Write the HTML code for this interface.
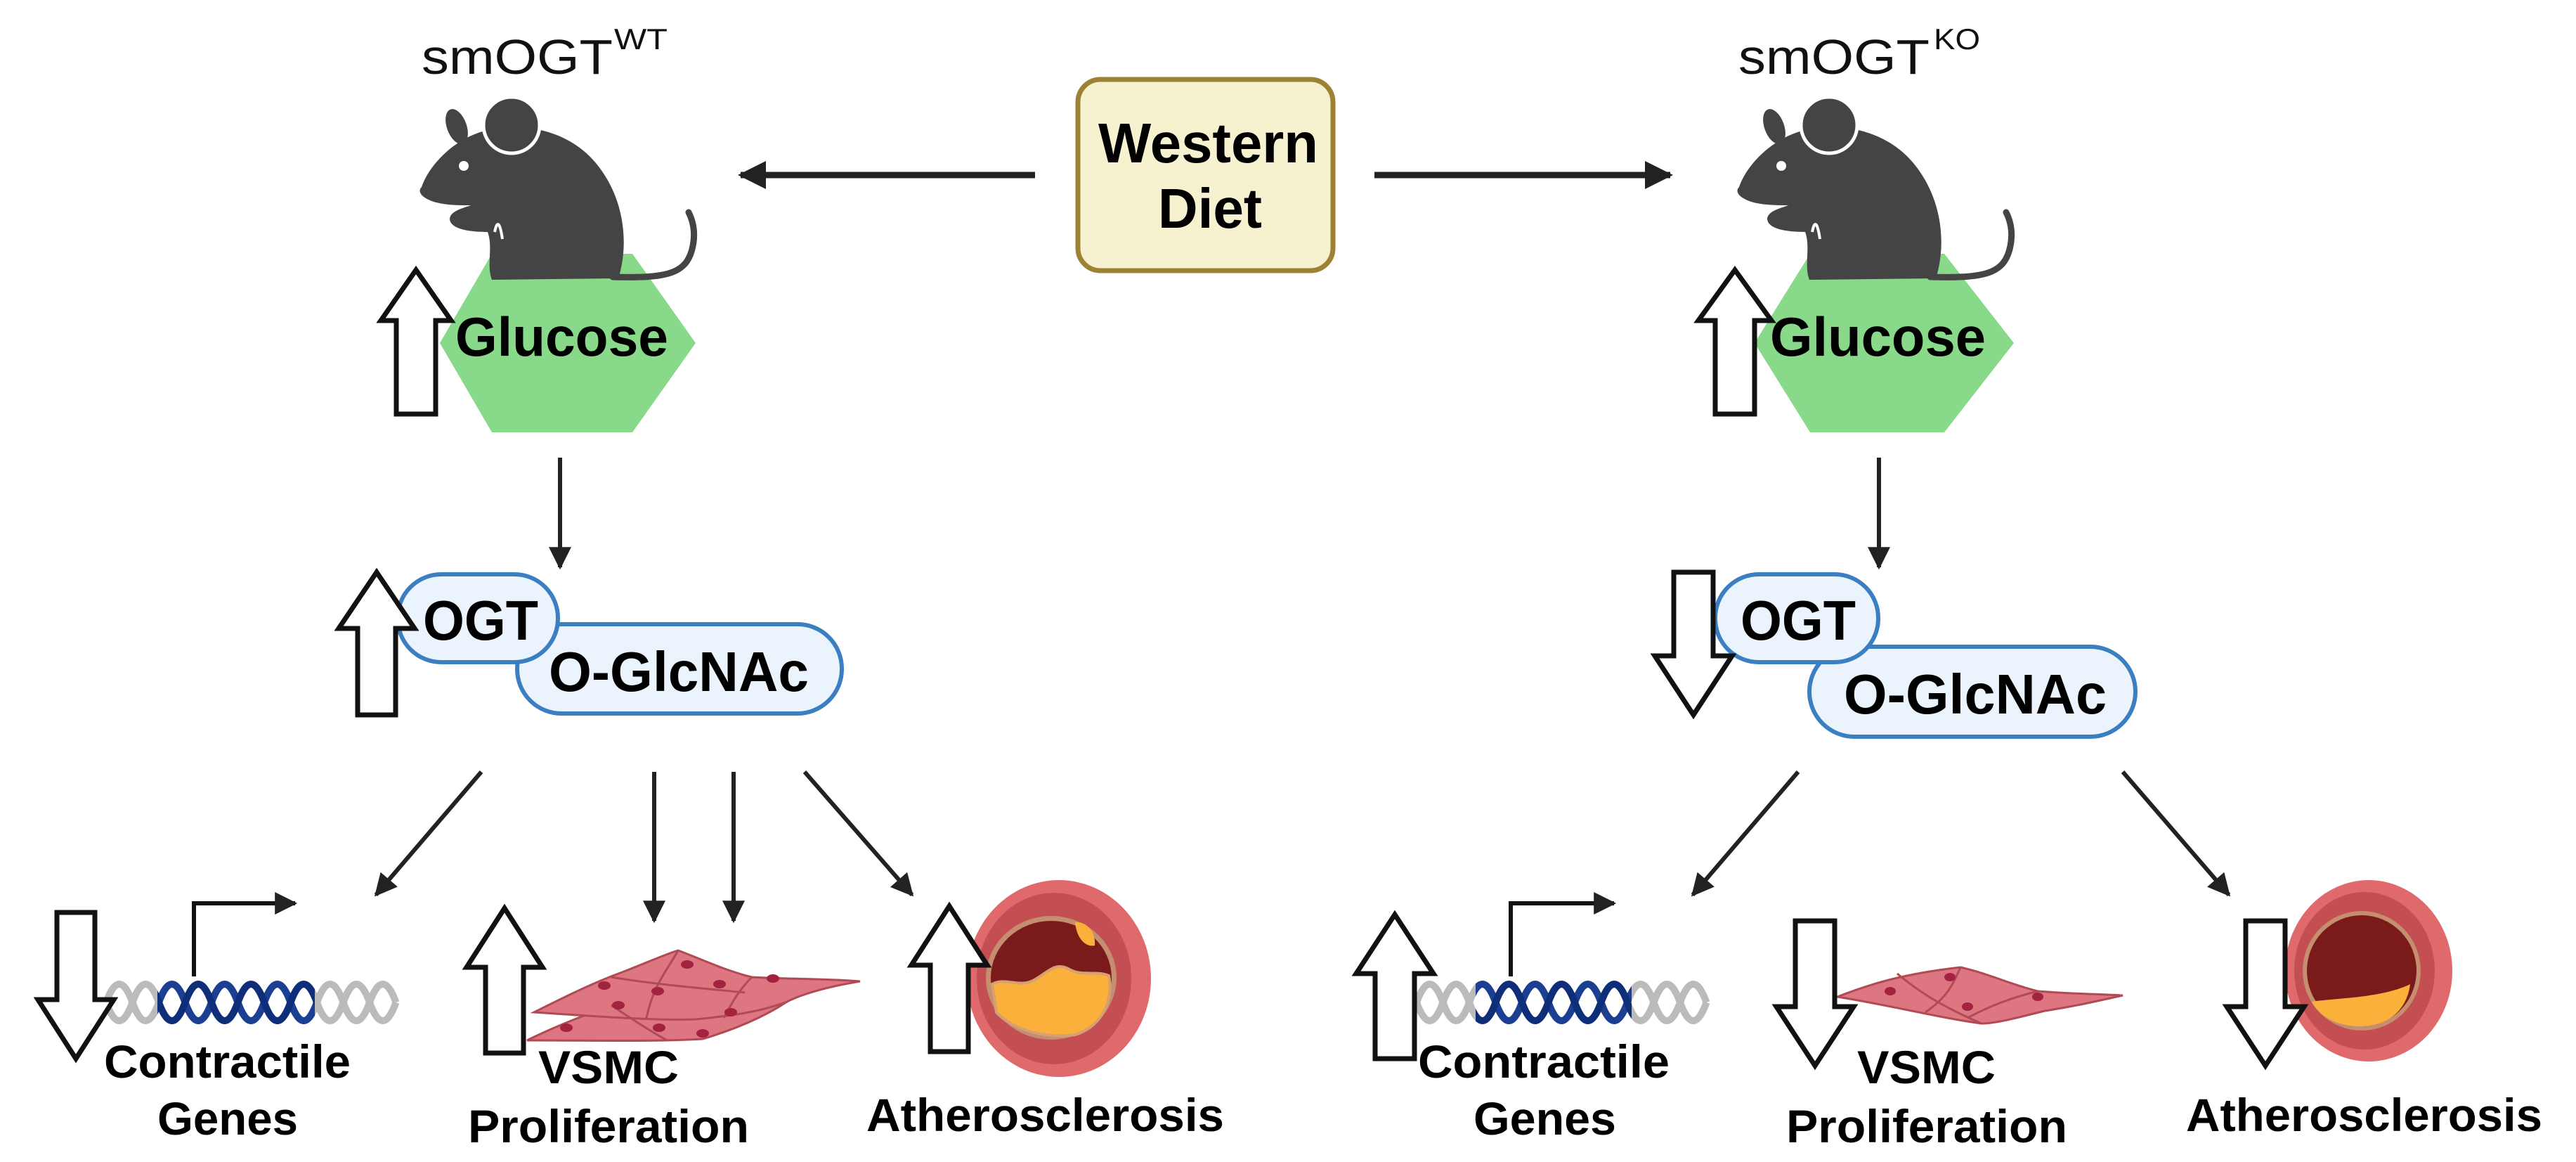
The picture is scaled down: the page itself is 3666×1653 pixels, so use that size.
<!DOCTYPE html>
<html><head><meta charset="utf-8">
<style>
html,body{margin:0;padding:0;background:#fff;}
svg{display:block;}
text{font-family:"Liberation Sans",Arial,sans-serif;}
.b{font-weight:bold;fill:#000;}
</style></head>
<body>
<svg width="3666" height="1653" viewBox="0 0 3666 1653" xmlns="http://www.w3.org/2000/svg">
<defs>
<marker id="ah" viewBox="0 0 10 10" refX="9" refY="5" markerWidth="42" markerHeight="32" markerUnits="userSpaceOnUse" orient="auto">
<path d="M0,0 L10,5 L0,10 z" fill="#222"/></marker>
<marker id="ahb" viewBox="0 0 10 10" refX="9" refY="5" markerWidth="40" markerHeight="40" markerUnits="userSpaceOnUse" orient="auto">
<path d="M0,0 L10,5 L0,10 z" fill="#222"/></marker>
<g id="mouse">
<path d="M600,266 C610,236 645,198 690,186 C745,172 810,186 848,232 C888,280 896,345 880,396 L700,398 C692,378 702,352 694,330 C676,330 642,328 640,312 C640,300 660,296 670,292 C650,292 622,292 606,282 C596,276 596,270 600,266 Z" fill="#444"/>
<ellipse cx="650" cy="180" rx="14" ry="26" transform="rotate(-20 650 180)" fill="#444"/>
<circle cx="728" cy="178" r="40" fill="#444" stroke="#fff" stroke-width="5"/>
<circle cx="660" cy="236" r="7" fill="#fff"/>
<path d="M704,330 C708,310 712,320 715,340" stroke="#fff" stroke-width="4" fill="none"/>
<path d="M872,394 C950,396 978,390 986,350 C990,330 986,314 980,302" stroke="#444" stroke-width="9" fill="none" stroke-linecap="round"/>
</g>
<clipPath id="cl1"><rect x="224" y="1380" width="224" height="100"/></clipPath>
<clipPath id="cl2"><rect x="2100" y="1380" width="222" height="100"/></clipPath>
</defs>

<rect x="1534" y="113" width="363" height="272" rx="32" fill="#f6f1cf" stroke="#9c8232" stroke-width="7"/>
<text class="b" x="1563" y="231" font-size="80" textLength="313" lengthAdjust="spacingAndGlyphs">Western</text>
<text class="b" x="1648" y="324" font-size="80" textLength="148" lengthAdjust="spacingAndGlyphs">Diet</text>
<line x1="1473" y1="249" x2="1054" y2="249" stroke="#222" stroke-width="9" marker-end="url(#ahb)"/>
<line x1="1956" y1="249" x2="2377" y2="249" stroke="#222" stroke-width="9" marker-end="url(#ahb)"/>

<text x="600" y="105" font-size="70" textLength="272" lengthAdjust="spacingAndGlyphs" fill="#111">smOGT</text>
<text x="874" y="70" font-size="42" textLength="76" lengthAdjust="spacingAndGlyphs" fill="#111">WT</text>
<text x="2474" y="105" font-size="70" textLength="272" lengthAdjust="spacingAndGlyphs" fill="#111">smOGT</text>
<text x="2752" y="70" font-size="42" textLength="66" lengthAdjust="spacingAndGlyphs" fill="#111">KO</text>

<polygon points="626,488 700,361 900,361 990,488 900,615 700,615" fill="#88d98a"/>
<polygon points="2497,488 2576,361 2767,361 2866,488 2767,615 2576,615" fill="#88d98a"/>
<use href="#mouse"/>
<use href="#mouse" transform="translate(1875,0)"/>

<g fill="#fff" stroke="#111" stroke-width="7">
<polygon points="592,384 642,456 620,456 620,589 564,589 564,456 542,456"/>
<polygon points="2469,384 2521,456 2497,456 2497,589 2441,589 2441,456 2417,456"/>
</g>
<text class="b" x="648" y="506" font-size="78" textLength="303" lengthAdjust="spacingAndGlyphs">Glucose</text>
<text class="b" x="2519" y="506" font-size="78" textLength="307" lengthAdjust="spacingAndGlyphs">Glucose</text>

<line x1="797" y1="651" x2="797" y2="807" stroke="#222" stroke-width="6" marker-end="url(#ah)"/>
<line x1="2674" y1="651" x2="2674" y2="807" stroke="#222" stroke-width="6" marker-end="url(#ah)"/>

<g fill="#ebf3fc" stroke="#3b7fc2" stroke-width="6">
<rect x="736" y="888" width="462" height="127" rx="63"/>
<rect x="566" y="817" width="228" height="125" rx="62"/>
<rect x="2575" y="920" width="464" height="128" rx="64"/>
<rect x="2441" y="817" width="232" height="125" rx="62"/>
</g>
<text class="b" x="602" y="910" font-size="80" textLength="164" lengthAdjust="spacingAndGlyphs">OGT</text>
<text class="b" x="781" y="983" font-size="80" textLength="370" lengthAdjust="spacingAndGlyphs">O-GlcNAc</text>
<text class="b" x="2477" y="910" font-size="80" textLength="164" lengthAdjust="spacingAndGlyphs">OGT</text>
<text class="b" x="2624" y="1015" font-size="80" textLength="374" lengthAdjust="spacingAndGlyphs">O-GlcNAc</text>

<g fill="#fff" stroke="#111" stroke-width="7">
<polygon points="536,814 590,894 563,894 563,1017 509,1017 509,894 482,894"/>
<polygon points="2410,1017 2465,933 2438,933 2438,814 2382,814 2382,933 2355,933"/>
</g>

<g stroke="#222" stroke-width="6">
<line x1="685" y1="1098" x2="535" y2="1273" marker-end="url(#ah)"/>
<line x1="931" y1="1098" x2="931" y2="1310" marker-end="url(#ah)"/>
<line x1="1044" y1="1098" x2="1044" y2="1310" marker-end="url(#ah)"/>
<line x1="1145" y1="1098" x2="1298" y2="1273" marker-end="url(#ah)"/>
<line x1="2559" y1="1098" x2="2409" y2="1273" marker-end="url(#ah)"/>
<line x1="3021" y1="1098" x2="3172" y2="1273" marker-end="url(#ah)"/>
</g>

<polyline points="276,1389 276,1285 420,1285" fill="none" stroke="#111" stroke-width="6" marker-end="url(#ah)"/>
<polyline points="2150,1389 2150,1285 2297,1285" fill="none" stroke="#111" stroke-width="6" marker-end="url(#ah)"/>

<g fill="none" stroke-width="10">
<path d="M151,1426 q18.75,-52 37.5,0 t37.5,0 t37.5,0 t37.5,0 t37.5,0 t37.5,0 t37.5,0 t37.5,0 t37.5,0 t37.5,0 t37.5,0" stroke="#bbb"/>
<path d="M151,1426 q18.75,52 37.5,0 t37.5,0 t37.5,0 t37.5,0 t37.5,0 t37.5,0 t37.5,0 t37.5,0 t37.5,0 t37.5,0 t37.5,0" stroke="#bbb"/>
<g clip-path="url(#cl1)">
<path d="M151,1426 q18.75,-52 37.5,0 t37.5,0 t37.5,0 t37.5,0 t37.5,0 t37.5,0 t37.5,0 t37.5,0 t37.5,0 t37.5,0" stroke="#1a3f93"/>
<path d="M151,1426 q18.75,52 37.5,0 t37.5,0 t37.5,0 t37.5,0 t37.5,0 t37.5,0 t37.5,0 t37.5,0 t37.5,0 t37.5,0" stroke="#0f2e7a"/>
</g>
<path d="M2016,1426 q18.75,-52 37.5,0 t37.5,0 t37.5,0 t37.5,0 t37.5,0 t37.5,0 t37.5,0 t37.5,0 t37.5,0 t37.5,0 t37.5,0" stroke="#bbb"/>
<path d="M2016,1426 q18.75,52 37.5,0 t37.5,0 t37.5,0 t37.5,0 t37.5,0 t37.5,0 t37.5,0 t37.5,0 t37.5,0 t37.5,0 t37.5,0" stroke="#bbb"/>
<g clip-path="url(#cl2)">
<path d="M2016,1426 q18.75,-52 37.5,0 t37.5,0 t37.5,0 t37.5,0 t37.5,0 t37.5,0 t37.5,0 t37.5,0 t37.5,0 t37.5,0" stroke="#1a3f93"/>
<path d="M2016,1426 q18.75,52 37.5,0 t37.5,0 t37.5,0 t37.5,0 t37.5,0 t37.5,0 t37.5,0 t37.5,0 t37.5,0 t37.5,0" stroke="#0f2e7a"/>
</g>
</g>

<g stroke="#b04a55" stroke-width="3" fill="#dd7680">
<path d="M750,1480 C790,1460 830,1445 870,1430 C900,1420 930,1410 960,1405 C990,1410 1030,1418 1060,1420 C1080,1425 1110,1420 1130,1418 C1100,1440 1060,1460 1000,1478 C930,1482 850,1480 750,1480 Z"/>
<path d="M760,1440 C800,1420 840,1400 880,1385 C920,1370 945,1358 965,1352 C1000,1365 1030,1380 1070,1390 C1120,1393 1180,1392 1224,1396 C1170,1405 1140,1415 1120,1425 C1080,1440 1040,1445 990,1450 C930,1452 850,1446 760,1440 Z"/>
<path d="M870,1390 C930,1400 990,1405 1060,1412 M965,1352 C950,1380 930,1400 920,1448 M1070,1390 C1050,1410 1040,1430 1030,1448 M870,1430 C900,1450 930,1470 950,1480" fill="none"/>
</g>
<g fill="#a3223f">
<ellipse cx="806" cy="1462" rx="9" ry="6"/><ellipse cx="880" cy="1430" rx="9" ry="6"/>
<ellipse cx="936" cy="1410" rx="9" ry="6"/><ellipse cx="978" cy="1372" rx="9" ry="6"/>
<ellipse cx="1024" cy="1400" rx="9" ry="6"/><ellipse cx="1100" cy="1392" rx="9" ry="6"/>
<ellipse cx="938" cy="1462" rx="9" ry="6"/><ellipse cx="1040" cy="1440" rx="9" ry="6"/>
<ellipse cx="860" cy="1402" rx="9" ry="6"/><ellipse cx="1000" cy="1470" rx="9" ry="6"/>
</g>
<g stroke="#b04a55" stroke-width="3" fill="#dd7680">
<path d="M2615,1418 C2660,1400 2710,1385 2790,1376 C2830,1385 2860,1400 2900,1410 C2950,1414 2990,1414 3021,1416 C2980,1425 2950,1432 2910,1438 C2870,1448 2840,1456 2820,1456 C2760,1448 2700,1432 2615,1418 Z"/>
<path d="M2700,1385 C2730,1410 2760,1430 2820,1456 M2790,1376 C2780,1400 2770,1420 2740,1440 M2900,1410 C2860,1420 2830,1432 2800,1448" fill="none"/>
</g>
<g fill="#a3223f">
<ellipse cx="2690" cy="1410" rx="8" ry="6"/><ellipse cx="2775" cy="1390" rx="8" ry="6"/>
<ellipse cx="2800" cy="1432" rx="8" ry="6"/><ellipse cx="2900" cy="1418" rx="8" ry="6"/>
</g>

<ellipse cx="1507" cy="1392" rx="131" ry="140" fill="#e0696b"/>
<ellipse cx="1500" cy="1392" rx="110" ry="122" fill="#c44f52"/>
<ellipse cx="1496" cy="1391" rx="93" ry="88" fill="#c58e6e"/>
<ellipse cx="1496" cy="1391" rx="86" ry="81" fill="#7a1a1a"/>
<path d="M1412,1400 C1430,1390 1450,1405 1470,1395 C1490,1385 1500,1368 1520,1378 C1540,1390 1560,1380 1578,1388 C1585,1420 1570,1460 1530,1472 C1490,1478 1440,1465 1418,1440 Z" fill="#fbb03b" stroke="#d8a070" stroke-width="4"/>
<path d="M1530,1312 C1545,1310 1560,1325 1558,1345 C1545,1348 1532,1335 1530,1312 Z" fill="#fbb03b"/>
<ellipse cx="3371" cy="1381" rx="119" ry="129" fill="#e0696b"/>
<ellipse cx="3365" cy="1381" rx="100" ry="112" fill="#c44f52"/>
<ellipse cx="3361" cy="1381" rx="84" ry="85" fill="#c58e6e"/>
<ellipse cx="3361" cy="1381" rx="78" ry="79" fill="#7a1a1a"/>
<path d="M3290,1425 C3320,1420 3390,1420 3430,1400 C3425,1440 3395,1460 3360,1460 C3325,1460 3300,1445 3290,1425 Z" fill="#fbb03b"/>

<g fill="#fff" stroke="#111" stroke-width="7">
<polygon points="108,1506 162,1422 135,1422 135,1298 81,1298 81,1422 54,1422"/>
<polygon points="718,1292 772,1376 745,1376 745,1498 691,1498 691,1376 664,1376"/>
<polygon points="1351,1289 1405,1373 1378,1373 1378,1496 1324,1496 1324,1373 1297,1373"/>
<polygon points="1985,1301 2040,1385 2013,1385 2013,1506 1957,1506 1957,1385 1930,1385"/>
<polygon points="2583,1516 2638,1432 2611,1432 2611,1310 2555,1310 2555,1432 2528,1432"/>
<polygon points="3224,1516 3279,1432 3252,1432 3252,1310 3196,1310 3196,1432 3169,1432"/>
</g>

<text class="b" x="148" y="1533" font-size="66" textLength="351" lengthAdjust="spacingAndGlyphs">Contractile</text>
<text class="b" x="224" y="1614" font-size="66" textLength="200" lengthAdjust="spacingAndGlyphs">Genes</text>
<text class="b" x="766" y="1541" font-size="66" textLength="200" lengthAdjust="spacingAndGlyphs">VSMC</text>
<text class="b" x="666" y="1625" font-size="66" textLength="400" lengthAdjust="spacingAndGlyphs">Proliferation</text>
<text class="b" x="1233" y="1609" font-size="66" textLength="509" lengthAdjust="spacingAndGlyphs">Atherosclerosis</text>
<text class="b" x="2018" y="1533" font-size="66" textLength="358" lengthAdjust="spacingAndGlyphs">Contractile</text>
<text class="b" x="2097" y="1614" font-size="66" textLength="203" lengthAdjust="spacingAndGlyphs">Genes</text>
<text class="b" x="2643" y="1541" font-size="66" textLength="197" lengthAdjust="spacingAndGlyphs">VSMC</text>
<text class="b" x="2542" y="1625" font-size="66" textLength="400" lengthAdjust="spacingAndGlyphs">Proliferation</text>
<text class="b" x="3111" y="1609" font-size="66" textLength="507" lengthAdjust="spacingAndGlyphs">Atherosclerosis</text>
</svg>
</body></html>
